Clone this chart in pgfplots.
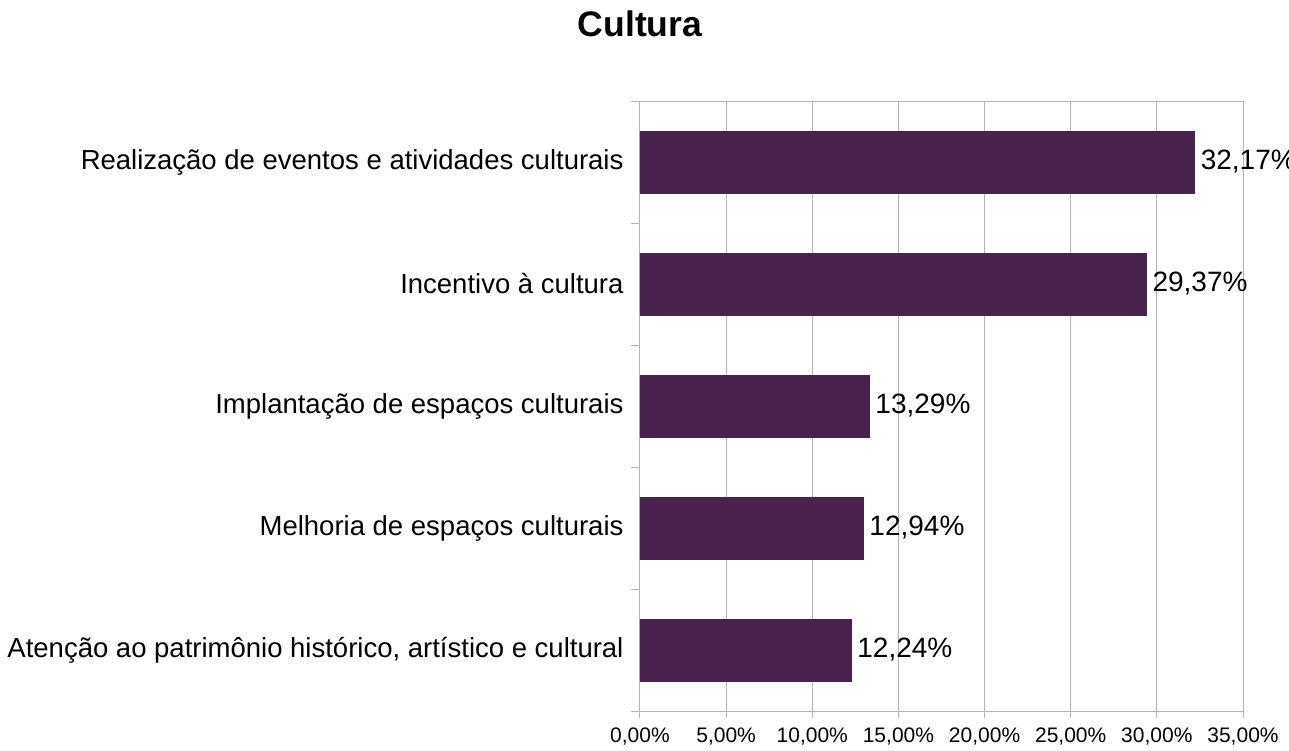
\documentclass[border=0pt]{standalone}
\usepackage{pgfplots}
\pgfplotsset{compat=1.18}
\usepackage{fontspec}
\setmainfont{Liberation Sans}
\definecolor{barpurple}{RGB}{73,35,77}
\definecolor{gridgray}{RGB}{179,179,179}
\begin{document}
\begin{tikzpicture}
\useasboundingbox (-640pt,-40pt) rectangle (649pt,711pt);
\begin{axis}[
    scale only axis,
    width=603pt, height=610pt,
    xbar, bar width=62pt, bar shift=0pt,
    xmin=0, xmax=35, ymin=0.5, ymax=5.5,
    y dir=reverse,
    xtick={0,5,...,35},
    xticklabels={{0,00\%},{5,00\%},{10,00\%},{15,00\%},{20,00\%},{25,00\%},{30,00\%},{35,00\%}},
    ytick={1,2,3,4,5},
    yticklabels={Realização de eventos e atividades culturais,Incentivo à cultura,Implantação de espaços culturais,Melhoria de espaços culturais,{Atenção ao patrimônio histórico, artístico e cultural}},
    minor ytick={0.5,1.5,...,5.5},
    xtick pos=bottom, ytick pos=left,
    tick align=outside,
    major tick length=7pt,
    minor tick length=9pt,
    major y tick style={draw=none},
    minor y tick style={draw=gridgray, line width=1pt},
    major x tick style={draw=gridgray, line width=1pt},
    xmajorgrids,
    grid style={gridgray, line width=1pt},
    axis line style={gridgray, line width=1pt},
    xticklabel style={font=\fontsize{21}{25}\selectfont, yshift=-6pt},
    yticklabel style={font=\fontsize{27.5}{31}\selectfont, xshift=-6pt},
    title={Cultura},
    title style={at={(0,1)}, anchor=center, yshift=71pt, font=\fontsize{35.5}{40}\selectfont\bfseries},
    nodes near coords={\pgfmathprintnumber[fixed,precision=2,fixed zerofill,use comma,assume math mode=true]{\pgfplotspointmeta}\%},
    every node near coord/.append style={font=\fontsize{28}{31}\selectfont, black, xshift=3pt},
    point meta=x,
    clip=false,
]
\addplot[fill=barpurple, draw=barpurple] coordinates {
    (32.17,1) (29.37,2) (13.29,3) (12.94,4) (12.24,5)
};
\end{axis}
\end{tikzpicture}
\end{document}
